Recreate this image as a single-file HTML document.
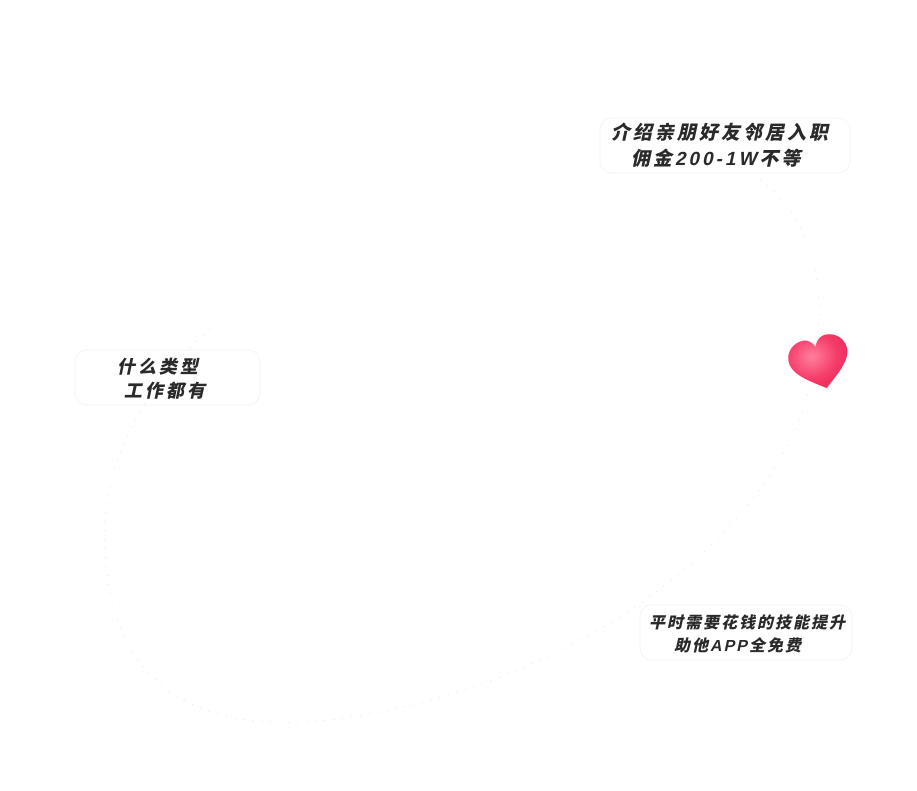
<!DOCTYPE html>
<html><head><meta charset="utf-8"><style>
body{margin:0;width:917px;height:791px;background:#fff;position:relative;overflow:hidden;font-family:"Liberation Sans","Noto Sans CJK SC",sans-serif;}
.t{position:absolute;font-weight:900;color:#2a2a2a;font-size:19px;line-height:25px;transform:skewX(-12deg);letter-spacing:3px;white-space:nowrap}
</style></head><body>
<svg width="917" height="791" style="position:absolute;left:0;top:0">
<defs><radialGradient id="g" cx="0.4" cy="0.35" r="0.7"><stop offset="0" stop-color="#ff7f9e"/><stop offset="0.6" stop-color="#f53c68"/><stop offset="1" stop-color="#e8285a"/></radialGradient></defs>
<path d="M760,180 C830,230 830,330 800,420 C740,560 560,690 330,720 C150,740 100,640 105,520 C110,440 160,370 215,325" fill="none" stroke="#e4e4e4" stroke-width="1" stroke-dasharray="1 8"/>
<rect x="600" y="118" width="250" height="55" rx="12" fill="none" stroke="#f4f4f4"/>
<rect x="75" y="350" width="185" height="55" rx="12" fill="none" stroke="#f4f4f4"/>
<rect x="640" y="605" width="212" height="55" rx="12" fill="none" stroke="#f4f4f4"/>
<g transform="translate(820,363) rotate(-15)">
<path d="M0,26 C-10,18 -30,6 -30,-8 C-30,-20 -20,-26 -12,-26 C-6,-26 -2,-22 0,-17 C2,-22 6,-26 12,-26 C20,-26 30,-20 30,-8 C30,6 10,18 0,26 Z" fill="url(#g)"/>
</g>
</svg>
<div class="t" style="left:612px;top:121px">介绍亲朋好友邻居入职</div>
<div class="t" style="left:632px;top:147px">佣金200-1W不等</div>
<div class="t" style="left:118px;top:355px;font-size:18px">什么类型</div>
<div class="t" style="left:125px;top:379px;font-size:18px">工作都有</div>
<div class="t" style="left:650px;top:611px;font-size:16px;letter-spacing:2px">平时需要花钱的技能提升</div>
<div class="t" style="left:675px;top:634px;font-size:16px;letter-spacing:2px">助他APP全免费</div>
</body></html>
